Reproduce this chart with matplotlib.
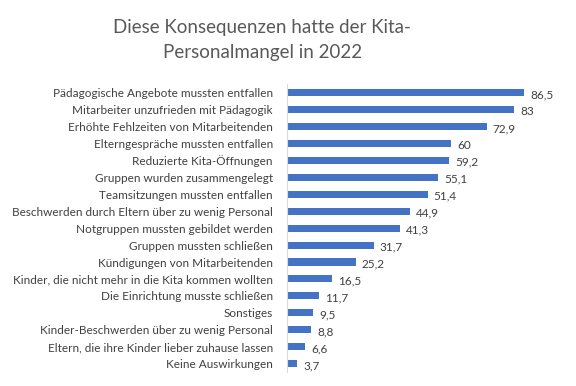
import matplotlib
matplotlib.use("Agg")
import matplotlib.pyplot as plt

categories = [
    "Pädagogische Angebote mussten entfallen",
    "Mitarbeiter unzufrieden mit Pädagogik",
    "Erhöhte Fehlzeiten von Mitarbeitenden",
    "Elterngespräche mussten entfallen",
    "Reduzierte Kita-Öffnungen",
    "Gruppen wurden zusammengelegt",
    "Teamsitzungen mussten entfallen",
    "Beschwerden durch Eltern über zu wenig Personal",
    "Notgruppen mussten gebildet werden",
    "Gruppen mussten schließen",
    "Kündigungen von Mitarbeitenden",
    "Kinder, die nicht mehr in die Kita kommen wollten",
    "Die Einrichtung musste schließen",
    "Sonstiges",
    "Kinder-Beschwerden über zu wenig Personal",
    "Eltern, die ihre Kinder lieber zuhause lassen",
    "Keine Auswirkungen",
]
values = [86.5, 83, 72.9, 60, 59.2, 55.1, 51.4, 44.9, 41.3, 31.7, 25.2, 16.5, 11.7, 9.5, 8.8, 6.6, 3.7]
value_labels = ["86,5", "83", "72,9", "60", "59,2", "55,1", "51,4", "44,9", "41,3",
                "31,7", "25,2", "16,5", "11,7", "9,5", "8,8", "6,6", "3,7"]

plt.rcParams["font.family"] = ["Lato", "DejaVu Sans"]
text_color = "#404040"

fig = plt.figure(figsize=(5.76, 3.86), dpi=100)
ax = fig.add_axes([0.498, 0.036, 0.476, 0.746])

ypos = list(range(len(categories)))[::-1]
ax.barh(ypos, values, height=0.42, color="#4472C4")
for y, v, lab in zip(ypos, values, value_labels):
    ax.text(v + 2.2, y - 0.12, lab, va="center", ha="left", fontsize=8.5, color=text_color)

ax.set_xlim(0, 100)
ax.set_ylim(-0.5, len(categories) - 0.5)
ax.set_yticks(ypos)
ax.set_yticklabels(categories, fontsize=8.5, color=text_color)
ax.tick_params(axis="y", length=0, pad=10)
ax.set_xticks([])
for s in ["top", "right", "bottom"]:
    ax.spines[s].set_visible(False)
ax.spines["left"].set_color("#d9d9d9")

fig.text(0.455, 0.896, "Diese Konsequenzen hatte der Kita-\nPersonalmangel in 2022",
         ha="center", va="center", fontsize=13.5, color="#595959", linespacing=1.6)

fig.savefig("out.png", dpi=100)
